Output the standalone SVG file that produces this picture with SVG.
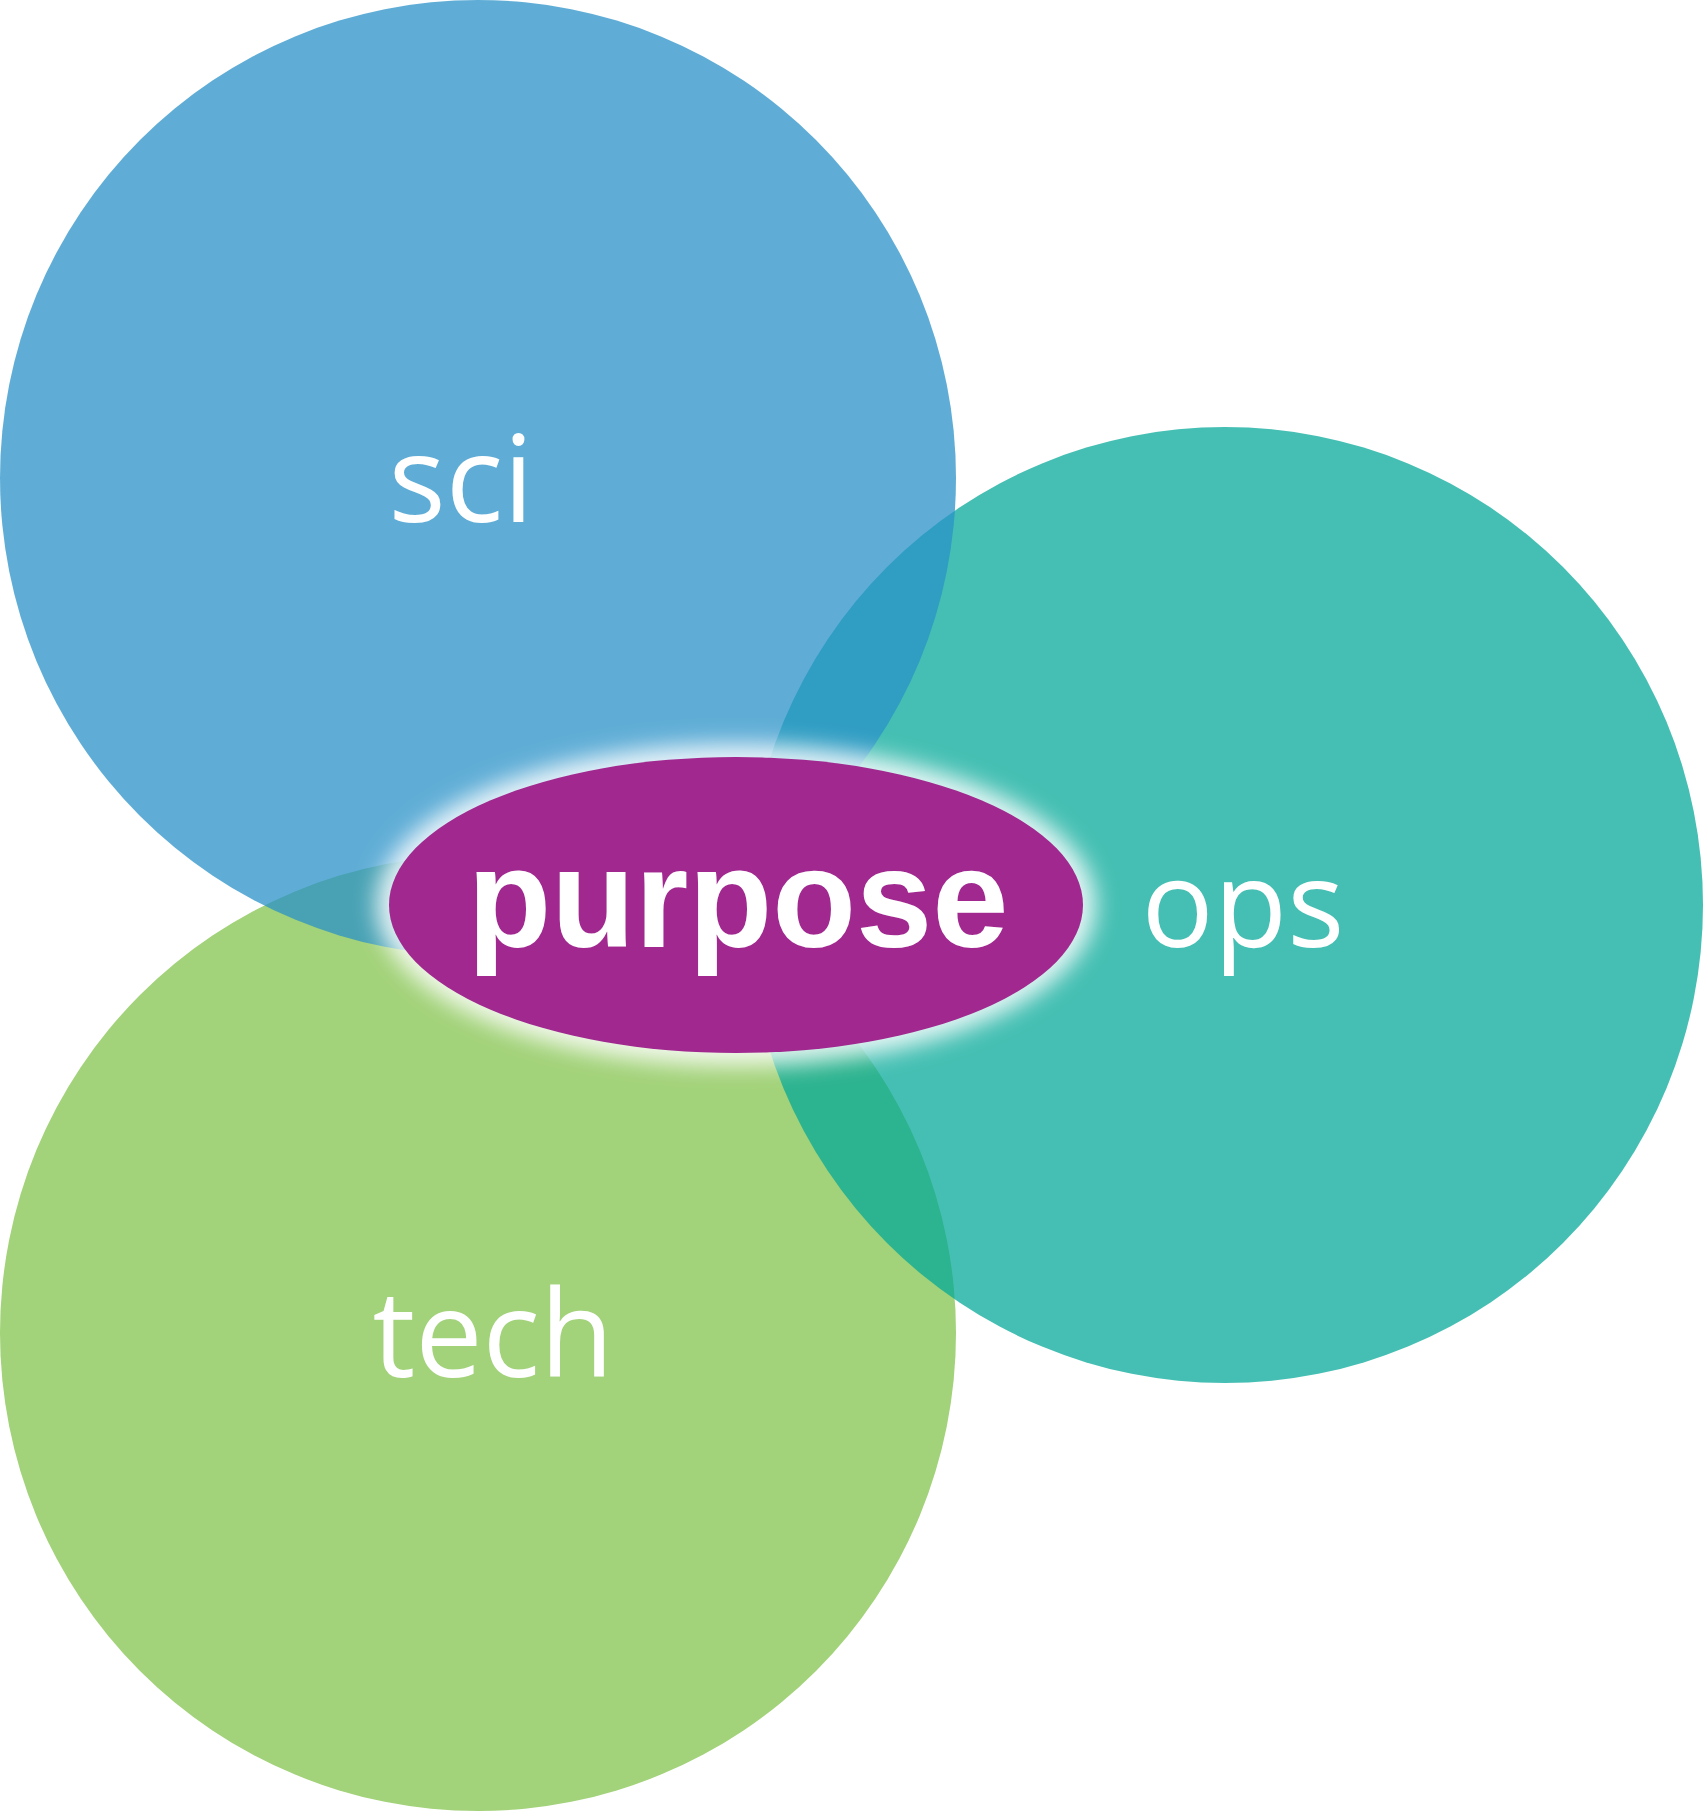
<svg xmlns="http://www.w3.org/2000/svg" width="1704" height="1811" viewBox="0 0 1704 1811">
  <defs>
    <filter id="glow" x="-20%" y="-30%" width="140%" height="160%">
      <feGaussianBlur stdDeviation="11"/>
    </filter>
    <style>
      .lbl { font-family: "Open Sans", "Liberation Sans", sans-serif; font-size: 120px; fill: #ffffff; text-anchor: middle; }
      .main { font-family: "Liberation Sans", Arial, sans-serif; font-size: 141px; font-weight: 700; fill: #ffffff; text-anchor: middle; }
    </style>
  </defs>
  <rect width="1704" height="1811" fill="#ffffff"/>
  <g id="tech">
    <circle cx="478" cy="1333" r="478" fill="#A2D279"/>
  </g>
  <g id="ops">
    <circle cx="1225" cy="905" r="478" fill="#00A797" fill-opacity="0.73"/>
  </g>
  <g id="sci">
    <circle cx="478" cy="478" r="478" fill="#2A92C8" fill-opacity="0.75"/>
  </g>
  <g id="labels">
    <text class="lbl" x="461" y="522">sci</text>
    <text class="lbl" x="1243" y="947">ops</text>
    <text class="lbl" x="493" y="1377">tech</text>
  </g>
  <g id="connectors"></g>
  <g id="purpose">
    <ellipse cx="736" cy="905" rx="360" ry="161" fill="#ffffff" fill-opacity="0.85" filter="url(#glow)"/>
    <ellipse cx="736" cy="905" rx="347" ry="148" fill="#A0288F"/>
    <text class="main" x="738" y="947" textLength="541" lengthAdjust="spacingAndGlyphs">purpose</text>
  </g>
</svg>
